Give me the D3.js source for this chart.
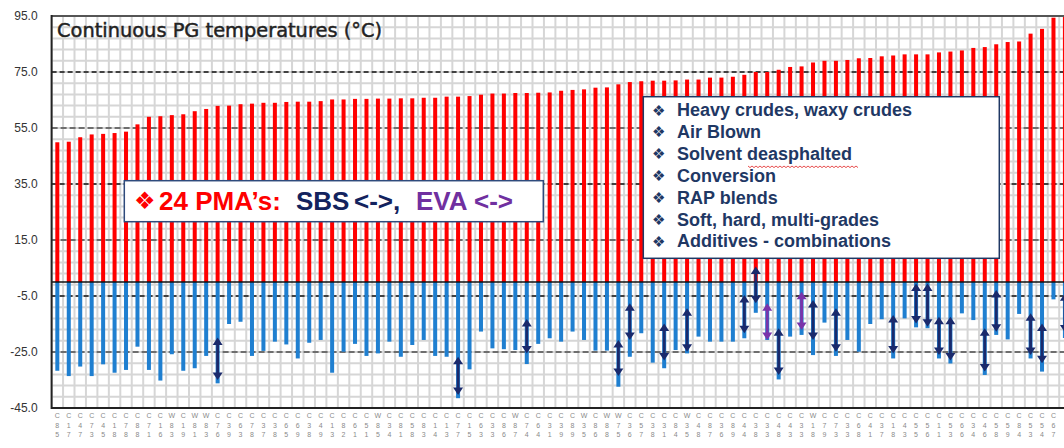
<!DOCTYPE html>
<html><head><meta charset="utf-8">
<script src="https://cdn.jsdelivr.net/npm/d3@7"></script>
<style>body{margin:0;background:#fff;} svg{display:block;}</style>
</head><body>
<script>
// ---------- data ----------
const highTemps = [49.9,50.1,51.7,52.7,52.9,53.2,53.7,56.3,59.0,59.2,
 59.6,59.9,61.0,61.8,62.9,63.0,63.5,63.7,64.0,64.0,
 64.3,64.4,64.4,64.6,65.2,65.2,65.4,65.4,65.5,65.5,
 65.6,65.6,65.8,65.8,66.2,66.2,66.4,66.9,67.3,67.3,
 67.5,67.5,67.6,67.7,68.3,68.6,68.8,69.4,69.5,70.6,
 71.4,71.7,71.9,71.9,72.0,72.3,72.3,73.0,73.0,73.3,
 74.0,75.0,75.0,75.8,76.8,77.0,78.4,79.0,79.0,79.3,
 79.9,80.0,80.6,80.9,81.3,81.3,81.3,82.0,82.3,82.7,
 83.6,83.9,84.9,85.7,85.9,88.7,90.4,94.4,95.0];
const lowTemps = [-31.7,-33.6,-30.2,-33.6,-29.4,-32.4,-31.4,-23.1,-31.4,-35.2,
 -25.8,-31.7,-30.8,-26.4,-36.2,-15.0,-14.2,-26.4,-24.6,-21.3,
 -22.3,-27.3,-21.7,-20.7,-32.4,-24.9,-22.1,-26.4,-25.5,-21.3,
 -26.7,-22.5,-20.7,-26.4,-26.7,-41.5,-31.2,-17.7,-23.7,-24.0,
 -24.3,-29.3,-22.1,-20.1,-21.3,-17.7,-20.7,-24.5,-24.5,-37.4,
 -26.7,-18.3,-28.8,-30.8,-24.3,-25.5,-19.5,-21.3,-21.3,-21.3,
 -20.1,-11.0,-20.7,-34.8,-19.5,-18.9,-26.1,-14.5,-26.4,-20.7,
 -24.9,-15.0,-13.3,-27.3,-13.0,-16.2,-16.5,-27.3,-29.1,-11.2,
 -13.6,-33.2,-18.9,-20.5,-11.4,-27.3,-32.0,-6.2,-20.0];
const sampleIds = ["C85","C17","C47","C73","C45","C18","C78","C88","C71","C16",
 "W83","C19","W81","W83","C76","C39","C63","C78","C37","C38",
 "C65","C69","C38","C49","C13","C82","C61","C51","W85","C34",
 "C81","C58","C83","C14","C13","C77","C15","C63","C33","C86",
 "W87","C74","C64","C31","C39","C89","W35","C86","W88","W75",
 "C36","C57","C38","C31","C84","W35","C48","C87","C36","C89",
 "C44","C38","C33","C48","C43","C33","W18","C79","C73","C33",
 "C68","C41","C37","C18","C43","C55","C56","C11","C53","C66",
 "C34","C46","C58","C59","C84","C53","C54","C67"];
const arrowBars    = [14,35,41,49,50,53,55,60,61,62,63,65,66,68,73,75,76,77,78,81,82,85,86,88];
const arrowTops    = [-19.8,-26.7,-13.2,-20.7,-7.6,-14.8,-9.4,-4.6,5.5,-7.6,-16.5,-3.5,-6.4,-9.4,-11.8,-0.5,-0.5,-12.4,-12.4,-16.5,-2.9,-11.2,-14.8,-4.0];
const arrowBottoms = [-35.0,-40.4,-25.5,-33.6,-20.7,-28.0,-24.9,-18.3,-7.6,-20.7,-33.2,-17.1,-20.7,-24.9,-25.5,-14.8,-16.0,-26.1,-28.0,-32.0,-17.8,-26.1,-29.0,-18.0];
const arrowKinds   = ["SBS","SBS","SBS","SBS","SBS","SBS","SBS","SBS","SBS","EVA","SBS","EVA","SBS","SBS","SBS","SBS","SBS","SBS","SBS","SBS","SBS","SBS","SBS","SBS"];
const yTickValues = [95,75,55,35,15,-5,-25,-45];
const refLinesBlack = [75,35,-5];
const refLinesGray = [55,15,-25];
const titleText = "Continuous PG temperatures (°C)";
const listItems = ["Heavy crudes, waxy crudes","Air Blown","Solvent deasphalted","Conversion","RAP blends","Soft, hard, multi-grades","Additives - combinations"];

// ---------- setup ----------
const W = 1064, H = 448;
const n = highTemps.length;
const plotLeft = 51.6, step = 11.45, plotTop = 16, plotBottom = 408;
const svg = d3.select("body").append("svg").attr("width", W).attr("height", H)
  .style("font-family", "'Liberation Sans', Arial, sans-serif");

const x = d3.scaleBand().domain(d3.range(n))
  .range([plotLeft, plotLeft + n * step]).paddingInner(0.65).paddingOuter(0.325);
const y = d3.scaleLinear().domain([-45, 95]).range([plotBottom, plotTop]);
const cx = i => x(i) + x.bandwidth() / 2;

svg.append("defs").append("clipPath").attr("id", "plotclip")
  .append("rect").attr("x", plotLeft).attr("y", plotTop).attr("width", W - plotLeft).attr("height", plotBottom - plotTop);

const plot = svg.append("g").attr("clip-path", "url(#plotclip)");

// grid
const gridColor = "#d6d6d6";
plot.append("g").selectAll("line").data(d3.range(-45, 96, 4)).join("line")
  .attr("x1", plotLeft).attr("x2", W).attr("y1", d => y(d)).attr("y2", d => y(d))
  .attr("stroke", gridColor).attr("stroke-width", 2);
plot.append("g").selectAll("line").data(d3.range(n + 1)).join("line")
  .attr("x1", i => cx(i) - x.step() / 2).attr("x2", i => cx(i) - x.step() / 2)
  .attr("y1", plotTop).attr("y2", plotBottom)
  .attr("stroke", gridColor).attr("stroke-width", 2);

// reference dashed lines
plot.append("g").selectAll("line").data(refLinesGray).join("line")
  .attr("x1", plotLeft).attr("x2", W).attr("y1", d => y(d)).attr("y2", d => y(d))
  .attr("stroke", "#6e6e6e").attr("stroke-width", 2).attr("stroke-dasharray", "6,3");
plot.append("g").selectAll("line").data(refLinesBlack).join("line")
  .attr("x1", plotLeft).attr("x2", W).attr("y1", d => y(d)).attr("y2", d => y(d))
  .attr("stroke", "#111").attr("stroke-width", 1.3).attr("stroke-dasharray", "5,3");

// bars
plot.append("g").selectAll("rect").data(highTemps).join("rect")
  .attr("x", (d, i) => x(i)).attr("width", x.bandwidth())
  .attr("y", d => y(d)).attr("height", d => y(0) - y(d))
  .attr("fill", "#ff0000");
plot.append("g").selectAll("rect").data(lowTemps).join("rect")
  .attr("x", (d, i) => x(i)).attr("width", x.bandwidth())
  .attr("y", y(0)).attr("height", d => y(d) - y(0))
  .attr("fill", "#1f7fd0");

// zero line
plot.append("line").attr("x1", plotLeft).attr("x2", W).attr("y1", y(0)).attr("y2", y(0))
  .attr("stroke", "#111").attr("stroke-width", 1.6);

// arrows
const arrowColor = { SBS: "#1a2a6c", EVA: "#7a34aa" };
const hl = 7.5, hw = 5;
const ag = plot.append("g");
arrowBars.forEach((b, k) => {
  const xc = cx(b), yt = y(arrowTops[k]), yb = y(arrowBottoms[k]);
  const col = arrowColor[arrowKinds[k]];
  ag.append("line").attr("x1", xc).attr("x2", xc).attr("y1", yt + hl - 1).attr("y2", yb - hl + 1)
    .attr("stroke", col).attr("stroke-width", 2.8);
  ag.append("path").attr("d", `M${xc},${yt} L${xc - hw},${yt + hl} L${xc + hw},${yt + hl} Z`).attr("fill", col);
  ag.append("path").attr("d", `M${xc},${yb} L${xc - hw},${yb - hl} L${xc + hw},${yb - hl} Z`).attr("fill", col);
});

// borders
svg.append("line").attr("x1", plotLeft).attr("x2", W).attr("y1", plotTop).attr("y2", plotTop)
  .attr("stroke", "#555").attr("stroke-width", 2);
svg.append("line").attr("x1", plotLeft).attr("x2", W).attr("y1", plotBottom).attr("y2", plotBottom)
  .attr("stroke", "#222").attr("stroke-width", 2);
svg.append("line").attr("x1", plotLeft).attr("x2", plotLeft).attr("y1", plotTop - 1).attr("y2", plotBottom + 1)
  .attr("stroke", "#222").attr("stroke-width", 2);

// y axis labels
const yAxis = svg.append("g").attr("transform", `translate(${plotLeft},0)`)
  .call(d3.axisLeft(y).tickValues(yTickValues).tickFormat(d => d.toFixed(1)).tickSize(0).tickPadding(14));
yAxis.select(".domain").remove();
yAxis.selectAll("text").attr("font-size", 12).attr("fill", "#333")
  .attr("font-family", "'Liberation Sans', Arial, sans-serif");

// x labels (three stacked characters)
const xl = svg.append("g").attr("font-size", 7).attr("fill", "#8a8a8a").attr("text-anchor", "middle");
sampleIds.forEach((s, i) => {
  const t = xl.append("text").attr("x", cx(i));
  [417.5, 427.5, 437].forEach((yy, r) => t.append("tspan").attr("x", cx(i)).attr("y", yy).text(s[r]));
});

// title
svg.append("text").attr("x", 57).attr("y", 36.5).attr("font-size", 19)
  .attr("font-family", "'DejaVu Sans', sans-serif").attr("fill", "#222")
  .attr("stroke", "#222").attr("stroke-width", 0.45)
  .attr("textLength", 325).attr("lengthAdjust", "spacingAndGlyphs").text(titleText);

// PMA box
svg.append("rect").attr("x", 124.3).attr("y", 180.7).attr("width", 419).attr("height", 41)
  .attr("fill", "#fff").attr("stroke", "#2f4b7c").attr("stroke-width", 1.5);
const pg = svg.append("g").attr("font-size", 26).attr("font-weight", "bold");
pg.append("text").attr("x", 134).attr("y", 209).attr("fill", "#ff0000").attr("font-size", 24)
  .attr("font-weight", "normal").attr("font-family", "'DejaVu Sans', sans-serif").text("❖");
pg.append("text").attr("x", 159).attr("y", 210).attr("fill", "#ff0000").text("24 PMA’s:");
pg.append("text").attr("x", 296).attr("y", 210).attr("fill", "#13235e").text("SBS");
pg.append("text").attr("x", 354).attr("y", 210).attr("fill", "#13235e").text("<->,");
pg.append("text").attr("x", 416).attr("y", 210).attr("fill", "#7030a0").text("EVA");
pg.append("text").attr("x", 474).attr("y", 210).attr("fill", "#7030a0").text("<->");

// list box
svg.append("rect").attr("x", 643.3).attr("y", 96.7).attr("width", 356).attr("height", 161.6)
  .attr("fill", "#fff").attr("stroke", "#1f3864").attr("stroke-width", 1.5);
const lg = svg.append("g");
listItems.forEach((t, k) => {
  const yy = 116 + k * 21.9;
  lg.append("text").attr("x", 652).attr("y", yy - 0.5).attr("font-size", 15)
    .attr("font-family", "'DejaVu Sans', sans-serif").attr("fill", "#1f3864").text("❖");
  lg.append("text").attr("x", 677).attr("y", yy).attr("font-size", 18).attr("font-weight", "bold")
    .attr("fill", "#1f3864").text(t);
});
// spell-check squiggle under "deasphalted"
const sq = d3.path();
sq.moveTo(748, 166);
for (let xx = 748, k = 0; xx < 857; xx += 2, k++) sq.lineTo(xx + 2, 166 + (k % 2 ? 0 : 1.6));
svg.append("path").attr("d", sq.toString()).attr("fill", "none").attr("stroke", "#e02020").attr("stroke-width", 0.8);
</script>
</body></html>
